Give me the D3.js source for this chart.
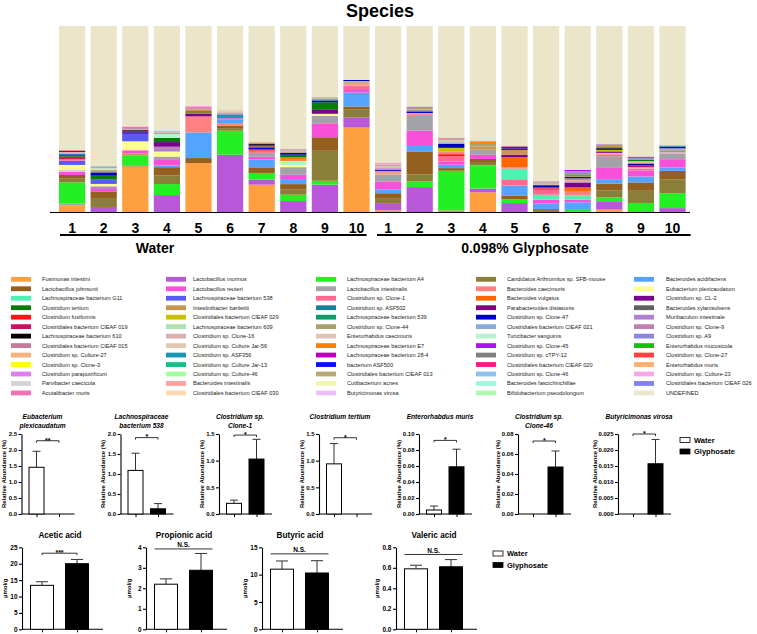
<!DOCTYPE html>
<html>
<head>
<meta charset="utf-8">
<script src="https://cdn.jsdelivr.net/npm/d3@7"></script>
<style>
  body { margin: 0; background: #fff; }
  svg { display: block; font-family: Arial, "Liberation Sans", sans-serif; }
</style>
</head>
<body>
<svg></svg>
<script>
const width = 757;
const height = 634;

// legend order, column by column
const species = [
  "Fusimonas intestini", "Lactobacillus johnsonii", "Lachnospiraceae bacterium G11", "Clostridium tertium",
  "Clostridium fusiformis", "Clostridiales bacterium CIEAF 019", "Lachnospiraceae bacterium 610",
  "Clostridiales bacterium CIEAF 015", "Clostridium sp. Culture-27", "Clostridium sp. Clone-3",
  "Clostridium paraputrificum", "Parvibacter caecicola", "Acutalibacter muris",
  "Lactobacillus murinus", "Lactobacillus reuteri", "Lachnospiraceae bacterium 538", "Intestinibacter bartlettii",
  "Clostridiales bacterium CIEAF 029", "Lachnospiraceae bacterium 609", "Clostridium sp. Clone-16",
  "Clostridium sp. Culture Jar-56", "Clostridium sp. ASF356", "Clostridium sp. Culture Jar-13",
  "Clostridium sp. Culture-46", "Bacteroides intestinalis", "Clostridiales bacterium CIEAF 030",
  "Lachnospiraceae bacterium A4", "Lactobacillus intestinalis", "Clostridium sp. Clone-1", "Clostridium sp. ASF502",
  "Lachnospiraceae bacterium 539", "Clostridium sp. Clone-44", "Enterorhabdus caecimuris",
  "Lachnospiraceae bacterium E7", "Lachnospiraceae bacterium 28-4", "bacterium ASF500",
  "Clostridiales bacterium CIEAF 013", "Cutibacterium acnes", "Butyricimonas virosa",
  "Candidatus Arthromitus sp. SFB-mouse", "Bacteroides caecimuris", "Bacteroides vulgatus",
  "Parabacteroides distasonis", "Clostridium sp. Clone-47", "Clostridiales bacterium CIEAF 021",
  "Turicibacter sanguinis", "Clostridium sp. Clone-45", "Clostridium sp. cTPY-12",
  "Clostridiales bacterium CIEAF 020", "Clostridium sp. Clone-46", "Bacteroides fascichinchillae",
  "Bifidobacterium pseudolongum",
  "Bacteroides acidifaciens", "Eubacterium plexicaudatum", "Clostridium sp. CL-2", "Bacteroides xylanisolvens",
  "Muribaculum intestinale", "Clostridium sp. Clone-9", "Clostridium sp. A9", "Enterorhabdus mucosicola",
  "Clostridium sp. Clone-27", "Enterorhabdus muris", "Clostridium sp. Culture-23",
  "Clostridiales bacterium CIEAF 026", "UNDEFINED"
];

const speciesColors = [
  "#ffa040", "#94601f", "#4ff0b0", "#0a7a0a", "#ff1414", "#d0105e", "#000000", "#c47a9c", "#f5b27c", "#ffff00", "#e07ef0", "#d4d4d4", "#f270b4",
  "#b858d8", "#f850d8", "#5a5af5", "#c89650", "#c8c000", "#b0e0b0", "#d8b0b0", "#e2c8b0", "#1898b2", "#10c080", "#a0ffa0", "#ffa0a0", "#ffd8b4",
  "#22f022", "#a2a2a8", "#ff6890", "#1a7f9a", "#10996a", "#a8a070", "#e0c2b2", "#ff8000", "#c000c0", "#0a10ff", "#b8a878", "#f0f8b0", "#ecc0f8",
  "#8a7e38", "#ff8080", "#ff6600", "#800080", "#0000c0", "#8aaad8", "#b8f0d8", "#b010f0", "#808080", "#ff1880", "#90c0f0", "#a0f8d8", "#b0f8b0",
  "#55a2ff", "#ffff90", "#7a0090", "#606060", "#b080d0", "#c080b0", "#8888e0", "#10c010", "#ff4040", "#ffb070", "#f8a8e8", "#8080f0", "#ebe5c9"
];

const sampleLabels = ["1", "2", "3", "4", "5", "6", "7", "8", "9", "10", "1", "2", "3", "4", "5", "6", "7", "8", "9", "10"];
const groups = ["Water", "0.098% Glyphosate"];

// relative abundance (%) per mouse, bottom to top
const water1 = [["Fusimonas intestini", 3.6], ["Lactobacillus intestinalis", 0.9], ["Lachnospiraceae bacterium A4", 11.4], ["Candidatus Arthromitus sp. SFB-mouse", 2.0], ["Lactobacillus johnsonii", 2.0], ["Lactobacillus reuteri", 1.8], ["Parvibacter caecicola", 0.9], ["Eubacterium plexicaudatum", 2.7], ["Lachnospiraceae bacterium 538", 2.3], ["Clostridium sp. Clone-1", 0.8], ["Clostridiales bacterium CIEAF 019", 0.6], ["Clostridium fusiformis", 0.7], ["Clostridium tertium", 0.6], ["Clostridium sp. Clone-47", 0.7], ["Clostridium sp. ASF356", 0.5], ["Clostridium sp. Culture Jar-56", 0.5], ["Clostridiales bacterium CIEAF 015", 0.4], ["Lachnospiraceae bacterium 610", 0.5], ["Bacteroides caecimuris", 0.6], ["UNDEFINED", 66.5]];
const water2 = [["Lactobacillus murinus", 2.7], ["Candidatus Arthromitus sp. SFB-mouse", 4.8], ["Lactobacillus johnsonii", 3.6], ["Lactobacillus reuteri", 1.3], ["Muribaculum intestinale", 1.4], ["Eubacterium plexicaudatum", 1.3], ["Lachnospiraceae bacterium 538", 2.3], ["Clostridium tertium", 2.1], ["Clostridium sp. Clone-47", 1.8], ["Clostridium sp. Clone-44", 0.8], ["Clostridiales bacterium CIEAF 013", 0.7], ["Bifidobacterium pseudolongum", 0.6], ["Clostridium sp. Clone-16", 0.6], ["Clostridium sp. ASF502", 0.5], ["UNDEFINED", 75.5]];
const water3 = [["Fusimonas intestini", 24.5], ["Lactobacillus johnsonii", 0.5], ["Lachnospiraceae bacterium A4", 5.2], ["Intestinibacter bartlettii", 1.4], ["Lactobacillus reuteri", 1.6], ["Eubacterium plexicaudatum", 4.8], ["Lachnospiraceae bacterium 538", 4.1], ["Clostridium sp. Clone-47", 0.8], ["Clostridiales bacterium CIEAF 019", 0.6], ["Lachnospiraceae bacterium 610", 0.5], ["Clostridium sp. Clone-16", 0.6], ["Clostridium sp. Clone-9", 0.5], ["Acutalibacter muris", 0.9], ["UNDEFINED", 54.0]];
const water4 = [["Lactobacillus murinus", 9.1], ["Lachnospiraceae bacterium A4", 5.9], ["Candidatus Arthromitus sp. SFB-mouse", 4.6], ["Lactobacillus johnsonii", 4.5], ["Bacteroides acidifaciens", 0.9], ["Lactobacillus reuteri", 3.4], ["Lactobacillus intestinalis", 1.4], ["Eubacterium plexicaudatum", 2.7], ["Muribaculum intestinale", 1.4], ["Clostridium sp. Clone-9", 1.2], ["Clostridium sp. CL-2", 2.5], ["Clostridium tertium", 2.3], ["Turicibacter sanguinis", 2.1], ["Clostridium sp. Clone-44", 0.6], ["Clostridium sp. Clone-16", 0.5], ["Clostridium sp. Clone-46", 0.7], ["UNDEFINED", 56.2]];
const water5 = [["Fusimonas intestini", 26.3], ["Lactobacillus johnsonii", 2.7], ["Bacteroides acidifaciens", 13.8], ["Bacteroides caecimuris", 8.6], ["Clostridium sp. CL-2", 1.4], ["Candidatus Arthromitus sp. SFB-mouse", 1.5], ["Intestinibacter bartlettii", 0.8], ["Clostridium sp. Clone-9", 0.7], ["Clostridium sp. Clone-1", 0.6], ["Clostridium sp. Culture-23", 0.6], ["UNDEFINED", 43.0]];
const water6 = [["Lactobacillus murinus", 30.8], ["Lachnospiraceae bacterium A4", 12.9], ["Candidatus Arthromitus sp. SFB-mouse", 1.4], ["Lactobacillus johnsonii", 1.3], ["Bacteroides caecimuris", 1.4], ["Bacteroides acidifaciens", 1.8], ["Lactobacillus reuteri", 0.8], ["Clostridium sp. ASF356", 2.1], ["Clostridium sp. Clone-9", 0.6], ["Clostridium sp. Clone-16", 0.5], ["Clostridiales bacterium CIEAF 013", 0.4], ["Clostridium sp. Culture Jar-56", 0.5], ["Clostridium sp. Clone-44", 0.2], ["UNDEFINED", 45.3]];
const water7 = [["Fusimonas intestini", 14.7], ["Lactobacillus murinus", 2.7], ["Lachnospiraceae bacterium A4", 3.6], ["Lactobacillus johnsonii", 3.0], ["Bacteroides acidifaciens", 4.3], ["Lactobacillus reuteri", 1.4], ["Lactobacillus intestinalis", 2.1], ["Clostridium sp. Clone-1", 1.2], ["Clostridium fusiformis", 0.8], ["Clostridium sp. Clone-47", 0.8], ["Clostridium tertium", 0.7], ["Clostridiales bacterium CIEAF 019", 0.8], ["Lachnospiraceae bacterium 610", 0.5], ["Clostridium sp. Clone-44", 0.6], ["Clostridium sp. Culture-27", 0.7], ["UNDEFINED", 62.1]];
const water8 = [["Lactobacillus murinus", 5.9], ["Lachnospiraceae bacterium A4", 3.4], ["Candidatus Arthromitus sp. SFB-mouse", 2.7], ["Lactobacillus johnsonii", 3.0], ["Bacteroides acidifaciens", 2.7], ["Lactobacillus reuteri", 2.3], ["Lactobacillus intestinalis", 4.1], ["Eubacterium plexicaudatum", 1.2], ["Turicibacter sanguinis", 0.9], ["Clostridium sp. Culture-46", 0.8], ["Clostridium sp. Clone-3", 0.6], ["Clostridium sp. Clone-27", 0.4], ["Lachnospiraceae bacterium E7", 1.3], ["Clostridium tertium", 1.5], ["Clostridium sp. Clone-47", 1.0], ["Clostridiales bacterium CIEAF 013", 0.8], ["Clostridium sp. Clone-16", 0.8], ["Clostridium sp. Clone-9", 0.4], ["UNDEFINED", 66.2]];
const water9 = [["Lactobacillus murinus", 14.7], ["Lachnospiraceae bacterium A4", 2.1], ["Candidatus Arthromitus sp. SFB-mouse", 16.1], ["Lactobacillus johnsonii", 7.3], ["Lactobacillus reuteri", 7.2], ["Lactobacillus intestinalis", 4.3], ["Eubacterium plexicaudatum", 1.1], ["Clostridium sp. CL-2", 2.1], ["Clostridium tertium", 4.1], ["Clostridium sp. Clone-47", 0.8], ["Clostridium sp. ASF502", 0.8], ["Clostridium sp. Clone-16", 0.6], ["Clostridium sp. Clone-44", 0.5], ["UNDEFINED", 38.3]];
const water10 = [["Fusimonas intestini", 45.4], ["Lactobacillus murinus", 5.4], ["Candidatus Arthromitus sp. SFB-mouse", 4.5], ["Lactobacillus johnsonii", 1.4], ["Bacteroides acidifaciens", 7.5], ["Lactobacillus reuteri", 1.4], ["Clostridium sp. Clone-1", 2.1], ["Clostridium sp. Clone-16", 0.7], ["Bacteroides caecimuris", 0.8], ["Clostridium sp. Clone-44", 0.6], ["Clostridium sp. Culture-27", 0.6], ["Clostridium sp. Clone-47", 0.6], ["UNDEFINED", 29.0]];

const glyph1 = [["Fusimonas intestini", 0.9], ["Lactobacillus murinus", 3.9], ["Candidatus Arthromitus sp. SFB-mouse", 2.3], ["Lactobacillus johnsonii", 3.0], ["Bacteroides acidifaciens", 2.1], ["Lactobacillus reuteri", 4.1], ["Lactobacillus intestinalis", 3.6], ["Clostridium sp. Clone-16", 0.8], ["Clostridium sp. Clone-1", 0.7], ["Clostridiales bacterium CIEAF 029", 0.7], ["Clostridium sp. Clone-47", 0.6], ["Muribaculum intestinale", 0.7], ["Clostridium sp. Clone-9", 0.6], ["Clostridium sp. Culture Jar-56", 0.8], ["Clostridium sp. Clone-44", 0.6], ["Clostridium sp. Culture-23", 0.5], ["Acutalibacter muris", 0.4], ["UNDEFINED", 73.7]];
const glyph2 = [["Lactobacillus murinus", 13.4], ["Lachnospiraceae bacterium A4", 3.0], ["Candidatus Arthromitus sp. SFB-mouse", 3.9], ["Lactobacillus johnsonii", 12.0], ["Bacteroides acidifaciens", 3.2], ["Lactobacillus reuteri", 8.2], ["Lactobacillus intestinalis", 8.0], ["Clostridium sp. Clone-1", 0.9], ["Clostridium sp. Culture-27", 0.6], ["Clostridium sp. Clone-47", 0.7], ["Bacteroides xylanisolvens", 0.8], ["Clostridium sp. Clone-16", 0.6], ["Clostridium sp. Clone-44", 0.6], ["Muribaculum intestinale", 0.8], ["UNDEFINED", 43.3]];
const glyph3 = [["Intestinibacter bartlettii", 0.9], ["Lachnospiraceae bacterium A4", 21.3], ["Lactobacillus johnsonii", 1.4], ["Bacteroides acidifaciens", 1.8], ["Lactobacillus reuteri", 1.8], ["Clostridium sp. Clone-1", 2.7], ["Clostridium fusiformis", 1.2], ["Bacteroides caecimuris", 1.3], ["Clostridiales bacterium CIEAF 029", 2.1], ["Clostridium sp. Clone-47", 2.3], ["Clostridium sp. Clone-16", 0.7], ["Lachnospiraceae bacterium G11", 0.6], ["Clostridium sp. Culture Jar-56", 0.7], ["Clostridium sp. Clone-44", 0.6], ["Clostridium sp. Clone-9", 0.6], ["UNDEFINED", 60.0]];
const glyph4 = [["Fusimonas intestini", 10.6], ["Lactobacillus murinus", 2.0], ["Lachnospiraceae bacterium A4", 12.5], ["Candidatus Arthromitus sp. SFB-mouse", 1.3], ["Lactobacillus johnsonii", 2.1], ["Lactobacillus reuteri", 2.3], ["Lactobacillus intestinalis", 2.7], ["Intestinibacter bartlettii", 1.8], ["Clostridium sp. Clone-44", 1.8], ["Lachnospiraceae bacterium E7", 0.9], ["Clostridium sp. Clone-16", 0.5], ["UNDEFINED", 61.5]];
const glyph5 = [["Lactobacillus murinus", 4.8], ["Lachnospiraceae bacterium A4", 2.1], ["Lactobacillus johnsonii", 1.8], ["Bacteroides acidifaciens", 5.5], ["Clostridium sp. Clone-1", 3.0], ["Lachnospiraceae bacterium G11", 6.1], ["Bacteroides caecimuris", 0.7], ["Bacteroides vulgatus", 5.4], ["Clostridium sp. CL-2", 1.3], ["Intestinibacter bartlettii", 2.7], ["Clostridium sp. Clone-47", 0.8], ["Parabacteroides distasonis", 0.8], ["Clostridium sp. Clone-9", 0.6], ["Clostridium sp. Culture Jar-56", 0.2], ["UNDEFINED", 64.2]];
const glyph6 = [["Candidatus Arthromitus sp. SFB-mouse", 1.6], ["Bacteroides acidifaciens", 2.9], ["Lactobacillus reuteri", 2.1], ["Lachnospiraceae bacterium G11", 2.7], ["Clostridium sp. Clone-1", 2.7], ["Clostridium fusiformis", 0.7], ["Clostridiales bacterium CIEAF 019", 0.6], ["Clostridium sp. Clone-47", 0.7], ["Clostridium tertium", 0.6], ["Clostridium sp. Clone-16", 0.7], ["Clostridium sp. Clone-44", 0.6], ["Clostridium sp. Clone-9", 0.6], ["UNDEFINED", 83.5]];
const glyph7 = [["Lachnospiraceae bacterium A4", 1.6], ["Bacteroides acidifaciens", 3.6], ["Lactobacillus reuteri", 1.4], ["Lachnospiraceae bacterium G11", 2.3], ["Bacteroides caecimuris", 2.0], ["Bacteroides vulgatus", 2.3], ["Clostridium sp. CL-2", 2.7], ["Clostridium sp. Clone-16", 1.0], ["Intestinibacter bartlettii", 1.2], ["Clostridium sp. Clone-47", 0.7], ["Clostridium sp. Clone-44", 0.8], ["Clostridium tertium", 0.6], ["Clostridium sp. Clone-9", 0.8], ["Muribaculum intestinale", 0.9], ["Clostridium sp. Clone-45", 0.8], ["UNDEFINED", 77.3]];
const glyph8 = [["Fusimonas intestini", 1.3], ["Lactobacillus murinus", 4.5], ["Lachnospiraceae bacterium A4", 2.0], ["Candidatus Arthromitus sp. SFB-mouse", 3.9], ["Lactobacillus johnsonii", 3.6], ["Bacteroides acidifaciens", 2.0], ["Lactobacillus reuteri", 6.4], ["Lactobacillus intestinalis", 6.3], ["Clostridium sp. Clone-1", 1.0], ["Clostridium sp. Culture-27", 0.8], ["Clostridium sp. CL-2", 0.8], ["Clostridiales bacterium CIEAF 029", 0.8], ["Clostridium sp. Clone-47", 0.7], ["Lachnospiraceae bacterium 610", 0.6], ["Intestinibacter bartlettii", 0.8], ["Clostridium sp. Clone-44", 0.7], ["Clostridium sp. Clone-9", 0.5], ["UNDEFINED", 63.3]];
const glyph9 = [["Lachnospiraceae bacterium A4", 4.8], ["Candidatus Arthromitus sp. SFB-mouse", 6.6], ["Lactobacillus johnsonii", 4.5], ["Bacteroides acidifaciens", 3.2], ["Lactobacillus reuteri", 3.2], ["Clostridium sp. Clone-1", 1.0], ["Clostridium sp. Clone-16", 0.8], ["Clostridiales bacterium CIEAF 019", 0.9], ["Clostridium sp. Clone-47", 0.8], ["Clostridium sp. Clone-44", 0.8], ["Clostridium sp. Culture-27", 0.8], ["Clostridium tertium", 0.8], ["Muribaculum intestinale", 0.8], ["Clostridium sp. ASF356", 0.7], ["Clostridium sp. Culture Jar-56", 0.5], ["UNDEFINED", 69.8]];
const glyph10 = [["Lactobacillus murinus", 2.1], ["Lachnospiraceae bacterium A4", 8.0], ["Candidatus Arthromitus sp. SFB-mouse", 7.5], ["Lactobacillus johnsonii", 4.5], ["Bacteroides acidifaciens", 1.8], ["Lactobacillus reuteri", 4.5], ["Lactobacillus intestinalis", 2.9], ["Clostridium sp. Clone-16", 0.8], ["Muribaculum intestinale", 0.8], ["Clostridium sp. Clone-44", 0.7], ["Clostridium sp. A9", 0.8], ["Clostridium sp. Clone-47", 0.7], ["Clostridium sp. ASF356", 0.7], ["UNDEFINED", 64.2]];

const samples = [water1, water2, water3, water4, water5, water6, water7, water8, water9, water10,
  glyph1, glyph2, glyph3, glyph4, glyph5, glyph6, glyph7, glyph8, glyph9, glyph10];

// differential taxa (relative abundance %, mean and top of error bar)
const taxaTitles = [["Eubacterium", "plexicaudatum"], ["Lachnospiraceae", "bacterium 538"], ["Clostridium sp.", "Clone-1"],
  ["Clostridium tertium"], ["Enterorhabdus muris"], ["Clostridium sp.", "Clone-46"], ["Butyricimonas virosa"]];
const taxaWater = [1.46, 1.09, 0.20, 0.94, 0.005, 0, 0];
const taxaWaterErr = [1.96, 1.52, 0.26, 1.32, 0.010, 0, 0];
const taxaGly = [0, 0.13, 1.03, 0, 0.059, 0.047, 0.0157];
const taxaGlyErr = [0, 0.26, 1.40, 0, 0.081, 0.063, 0.0233];
const taxaMax = [2.5, 2.0, 1.5, 1.5, 0.10, 0.08, 0.025];
const taxaStep = [0.5, 0.5, 0.5, 0.5, 0.02, 0.02, 0.005];
const taxaFormat = [".1f", ".1f", ".1f", ".1f", ".2f", ".2f", ".3f"];
const taxaSig = ["**", "*", "*", "*", "*", "*", "*"];
const taxaSigLevel = [2.29, 1.91, 1.48, 1.43, 0.092, 0.073, 0.025];

// short chain fatty acids (µmol/g)
const acidTitles = ["Acetic acid", "Propionic acid", "Butyric acid", "Valeric acid"];
const acidWater = [13.4, 2.2, 11.0, 0.59];
const acidWaterErr = [14.5, 2.46, 12.5, 0.625];
const acidGly = [20.0, 2.88, 10.3, 0.61];
const acidGlyErr = [21.3, 3.70, 12.55, 0.68];
const acidMax = [25, 4, 15, 0.8];
const acidStep = [5, 1, 5, 0.2];
const acidFormat = ["d", "d", "d", ".1f"];
const acidSig = ["***", "N.S.", "N.S.", "N.S."];
const acidSigLevel = [23.2, 3.92, 13.8, 0.73];

const colorOf = new Map(species.map((s, i) => [s, speciesColors[i]]));

const svg = d3.select("svg").attr("width", width).attr("height", height);

// ---------- stacked species bars ----------
const ids = sampleLabels.map((d, i) => (i < 10 ? "W" : "G") + d);
const xMain = d3.scaleBand().domain(ids).range([56.3, 688.3]).paddingInner(0.17).paddingOuter(0.085);
const yMain = d3.scaleLinear().domain([0, 100]).range([212, 26]);

svg.append("text").attr("x", 380).attr("y", 17).attr("text-anchor", "middle")
  .attr("font-size", 18).attr("font-weight", "bold").text("Species");

const stacks = samples.map((segs, i) => {
  let acc = 0;
  return segs.map(([name, v]) => {
    const s = { id: ids[i], name, y0: acc, y1: acc + v };
    acc += v;
    return s;
  });
});

svg.append("g").selectAll("g")
  .data(stacks)
  .join("g")
  .selectAll("rect")
  .data(d => d)
  .join("rect")
  .attr("x", d => xMain(d.id))
  .attr("width", xMain.bandwidth())
  .attr("y", d => yMain(Math.min(d.y1, 100)))
  .attr("height", d => yMain(d.y0) - yMain(Math.min(d.y1, 100)))
  .attr("fill", d => colorOf.get(d.name) || "#999");

const xAxisMain = svg.append("g")
  .attr("transform", "translate(0,212.5)")
  .call(d3.axisBottom(xMain).tickSize(0).tickPadding(10.5).tickFormat((d, i) => sampleLabels[i]));
xAxisMain.select(".domain").attr("d", "M50,0H690").attr("stroke-width", 1.2);
xAxisMain.selectAll("text").attr("font-size", 14).attr("font-weight", "bold").attr("fill", "#000")
  .attr("font-family", "Arial, 'Liberation Sans', sans-serif");

const groupLines = [[xMain("W1") + 1, xMain("W10") + xMain.bandwidth() - 3], [xMain("G1") + 2, xMain("G10") + xMain.bandwidth() + 5]];
svg.append("g").selectAll("line").data(groupLines).join("line")
  .attr("x1", d => d[0]).attr("x2", d => d[1]).attr("y1", 235).attr("y2", 235)
  .attr("stroke", "#000").attr("stroke-width", 2);
svg.append("g").selectAll("text").data(groups).join("text")
  .attr("x", (d, i) => i === 0 ? 155 : 525).attr("y", 253).attr("text-anchor", "middle")
  .attr("font-size", 14).attr("font-weight", "bold").text(d => d);

// ---------- species legend ----------
const legCols = [11, 166, 316, 476, 634];
const legText = [42, 193, 347, 507, 666];
const legend = svg.append("g").selectAll("g").data(species).join("g")
  .attr("transform", (d, i) => `translate(0,${279.3 + 9.47 * (i % 13)})`);
legend.append("rect")
  .attr("x", (d, i) => legCols[Math.floor(i / 13)]).attr("y", -2.4)
  .attr("width", 20).attr("height", 4.8)
  .attr("fill", (d, i) => speciesColors[i]);
legend.append("text")
  .attr("x", (d, i) => legText[Math.floor(i / 13)]).attr("y", 2)
  .attr("font-size", 5.6).attr("fill", "#222").text(d => d);

// ---------- small group bar charts ----------
function groupPanel(o) {
  const g = svg.append("g");
  const y = d3.scaleLinear().domain([0, o.max]).range([o.bottom, o.top]);
  const x = d3.scalePoint().domain(["Water", "Glyphosate"]).range([o.ax + o.c1, o.ax + o.c2]);

  const ticks = d3.range(0, o.max + o.step / 2, o.step);
  const ya = g.append("g").attr("transform", `translate(${o.ax},0)`)
    .call(d3.axisLeft(y).tickValues(ticks).tickFormat(d3.format(o.fmt)).tickSize(3).tickSizeOuter(0).tickPadding(1.5));
  ya.selectAll("text").attr("font-size", o.tickFont).attr("font-weight", "bold");
  ya.selectAll("line, path").attr("stroke-width", 1.1);

  const xa = g.append("g").attr("transform", `translate(0,${o.bottom})`)
    .call(d3.axisBottom(x).tickSize(3).tickFormat(""));
  xa.select(".domain").attr("d", `M${o.ax},0H${o.ax + o.len}`).attr("stroke-width", 1.1);

  const bars = [
    { k: "Water", v: o.w, e: o.we, fill: "#fff" },
    { k: "Glyphosate", v: o.g, e: o.ge, fill: "#000" }
  ];
  // error bars (upper only)
  g.selectAll(".err").data(bars.filter(d => d.e > d.v)).join("path")
    .attr("d", d => `M${x(d.k)},${y(d.v)}V${y(d.e)}M${x(d.k) - o.cap},${y(d.e)}H${x(d.k) + o.cap}`)
    .attr("stroke", "#333").attr("stroke-width", 1).attr("fill", "none");
  g.selectAll(".bar").data(bars.filter(d => d.v > 0)).join("rect")
    .attr("x", d => x(d.k) - o.bw / 2).attr("width", o.bw)
    .attr("y", d => y(d.v)).attr("height", d => y(0) - y(d.v))
    .attr("fill", d => d.fill).attr("stroke", "#000").attr("stroke-width", 1);

  const sy = y(o.sigLevel);
  if (o.sig === "N.S.") {
    g.append("line").attr("x1", x("Water") - o.bw / 2).attr("x2", x("Glyphosate") + o.bw / 2)
      .attr("y1", sy).attr("y2", sy).attr("stroke", "#000").attr("stroke-width", 0.8);
    g.append("text").attr("x", (x("Water") + x("Glyphosate")) / 2).attr("y", sy - 1.8)
      .attr("text-anchor", "middle").attr("font-size", 6.5).attr("font-weight", "bold").text(o.sig);
  } else {
    g.append("path").attr("d", `M${x("Water")},${sy + 2}V${sy}H${x("Glyphosate")}V${sy + 2}`)
      .attr("stroke", "#000").attr("stroke-width", 0.8).attr("fill", "none");
    g.append("text").attr("x", (x("Water") + x("Glyphosate")) / 2).attr("y", sy + 1.8)
      .attr("text-anchor", "middle").attr("font-size", 7).attr("font-weight", "bold").text(o.sig);
  }

  o.title.forEach((t, i) => {
    g.append("text").attr("x", o.ax + o.titleDx).attr("y", o.titleY + i * 9)
      .attr("text-anchor", "middle").attr("font-size", o.titleFont).attr("font-weight", "bold")
      .attr("font-style", o.italic ? "italic" : "normal").text(t);
  });

  g.append("text")
    .attr("transform", `translate(${o.ax + o.labelDx},${(o.top + o.bottom) / 2}) rotate(-90)`)
    .attr("text-anchor", "middle").attr("font-size", 6).attr("font-weight", "bold").text(o.ylabel);
}

const taxaAxisX = [21.5, 120.5, 219, 319, 419, 518, 618];
const taxaLabelDx = { ".1f": -15.5, ".2f": -18.5, ".3f": -21.5 };
taxaTitles.forEach((t, i) => groupPanel({
  ax: taxaAxisX[i], c1: 15, c2: 37.5, len: 53, bw: 15, cap: 4,
  top: 434, bottom: 514, max: taxaMax[i], step: taxaStep[i], fmt: taxaFormat[i], tickFont: 6,
  w: taxaWater[i], we: taxaWaterErr[i], g: taxaGly[i], ge: taxaGlyErr[i],
  sig: taxaSig[i], sigLevel: taxaSigLevel[i],
  title: t, titleDx: 21, titleY: 419, titleFont: 6.6, italic: true,
  ylabel: "Relative Abundance (%)", labelDx: taxaLabelDx[taxaFormat[i]]
}));

const acidAxisX = [22, 146, 262, 396];
acidTitles.forEach((t, i) => groupPanel({
  ax: acidAxisX[i], c1: 20, c2: 55, len: 81, bw: 23, cap: 6,
  top: 547.3, bottom: 629.3, max: acidMax[i], step: acidStep[i], fmt: acidFormat[i], tickFont: 6.5,
  w: acidWater[i], we: acidWaterErr[i], g: acidGly[i], ge: acidGlyErr[i],
  sig: acidSig[i], sigLevel: acidSigLevel[i],
  title: [t], titleDx: 38, titleY: 538, titleFont: 8.2, italic: false,
  ylabel: "µmol/g", labelDx: acidFormat[i] === ".1f" ? -17 : -15
}));

// ---------- treatment legends ----------
function treatmentLegend(x, y) {
  const g = svg.append("g").attr("transform", `translate(${x},${y})`);
  const items = [{ k: "Water", fill: "#fff" }, { k: "Glyphosate", fill: "#000" }];
  const row = g.selectAll("g").data(items).join("g").attr("transform", (d, i) => `translate(0,${i * 11.5})`);
  row.append("rect").attr("x", 0).attr("y", -2.5).attr("width", 10).attr("height", 5)
    .attr("fill", d => d.fill).attr("stroke", "#000").attr("stroke-width", 0.8);
  row.append("text").attr("x", 14).attr("y", 2.6).attr("font-size", 7.5).attr("font-weight", "bold").text(d => d.k);
}
treatmentLegend(680, 440);
treatmentLegend(493, 553.5);
</script>
</body>
</html>
